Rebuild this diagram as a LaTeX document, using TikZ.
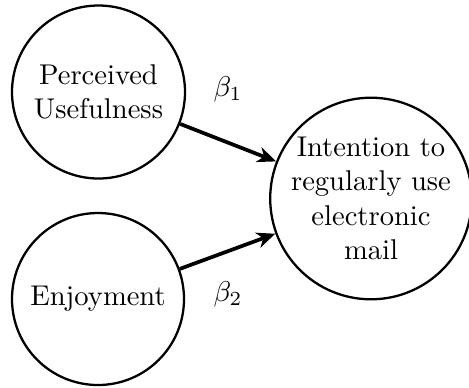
\documentclass[tikz,border=0pt]{standalone}
\usetikzlibrary{arrows.meta}
\begin{document}
\begin{tikzpicture}[x=0.35pt,y=-0.35pt,
  construct/.style={circle,draw,line width=0.8pt,align=center,inner sep=0pt},
  path/.style={line width=1.3pt,-{Stealth[length=6.5pt,width=5.5pt,inset=2pt]}}]
\useasboundingbox (0,0) rectangle (469,387);
\node[construct,minimum size=173*0.35pt] (pu) at (98.5,92) {Perceived\\Usefulness};
\node[construct,minimum size=172*0.35pt] (en) at (98,299) {Enjoyment};
\node[construct,minimum size=196*0.35pt] (iu) at (371,198.5) {Intention to\\regularly use\\electronic\\mail};
\draw[path] (pu) -- (iu);
\draw[path] (en) -- (iu);
\node (b1) at (228,89) {$\beta_1$};
\node (b2) at (228,294) {$\beta_2$};
\end{tikzpicture}
\end{document}
